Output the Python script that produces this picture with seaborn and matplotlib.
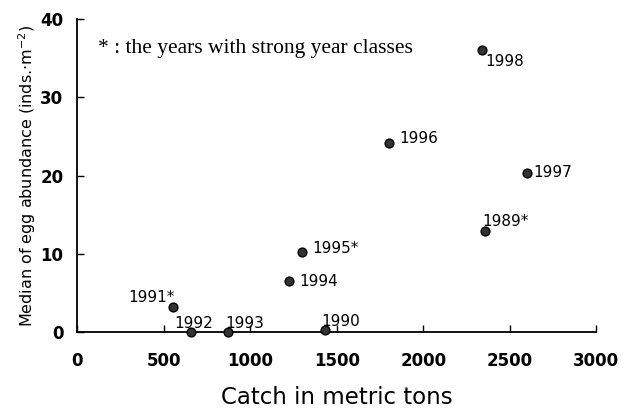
import matplotlib
matplotlib.use("Agg")
import matplotlib.pyplot as plt
import seaborn as sns
import pandas as pd

sns.set_style("ticks")
plt.rcParams['font.family'] = ['DejaVu Sans']
plt.rcParams['text.color'] = 'black'
plt.rcParams['axes.labelcolor'] = 'black'
plt.rcParams['xtick.color'] = 'black'
plt.rcParams['ytick.color'] = 'black'
plt.rcParams['axes.edgecolor'] = 'black'

# data
years = ['1989*', '1990', '1991*', '1992', '1993', '1994', '1995*', '1996', '1997', '1998']
catch = [2358, 1433, 555, 659, 873, 1225, 1300, 1803, 2601, 2341]
eggs = [12.9, 0.3, 3.2, 0.0, 0.0, 6.5, 10.2, 24.2, 20.4, 36.0]

df = pd.DataFrame({'year': years, 'catch': catch, 'eggs': eggs})

# label offsets in points (dx, dy, ha)
offsets = {
    '1989*': (-2, 7, 'left'),
    '1990': (-3, 6, 'left'),
    '1991*': (1, 7, 'right'),
    '1992': (-12, 6, 'left'),
    '1993': (-2, 6, 'left'),
    '1994': (7, 0, 'left'),
    '1995*': (7, 3, 'left'),
    '1996': (7, 3, 'left'),
    '1997': (4, 0, 'left'),
    '1998': (2, -8, 'left'),
}

fig, ax = plt.subplots(figsize=(6.29, 4.08), dpi=100)
fig.subplots_adjust(left=0.123, right=0.948, top=0.953, bottom=0.186)

sns.scatterplot(data=df, x='catch', y='eggs', ax=ax, color='#333333',
                edgecolor='black', linewidth=1.0, s=40, zorder=3, clip_on=False)

for _, r in df.iterrows():
    dx, dy, ha = offsets[r['year']]
    ax.annotate(r['year'], (r['catch'], r['eggs']), xytext=(dx, dy),
                textcoords='offset points', ha=ha, va='center', fontsize=11)

ax.text(120, 36.3, '* : the years with strong year classes', fontsize=15.5,
        family='Liberation Serif', va='center')

ax.set_xlim(0, 3000)
ax.set_ylim(0, 40)
ax.set_xticks([0, 500, 1000, 1500, 2000, 2500, 3000])
ax.set_yticks([0, 10, 20, 30, 40])
ax.tick_params(direction='in', length=5, width=1, labelsize=12)
ax.tick_params(axis='x', pad=14)
ax.tick_params(axis='y', pad=10)
for lbl in ax.get_xticklabels() + ax.get_yticklabels():
    lbl.set_fontweight('bold')
sns.despine(ax=ax)
for s in ['left', 'bottom']:
    ax.spines[s].set_linewidth(1.3)

ax.set_xlabel('Catch in metric tons', fontsize=16.5, labelpad=12)
ax.set_ylabel('Median of egg abundance (inds.$\\cdot$m$^{-2}$)', fontsize=11.5, labelpad=2)

fig.savefig('out.png', dpi=100)
